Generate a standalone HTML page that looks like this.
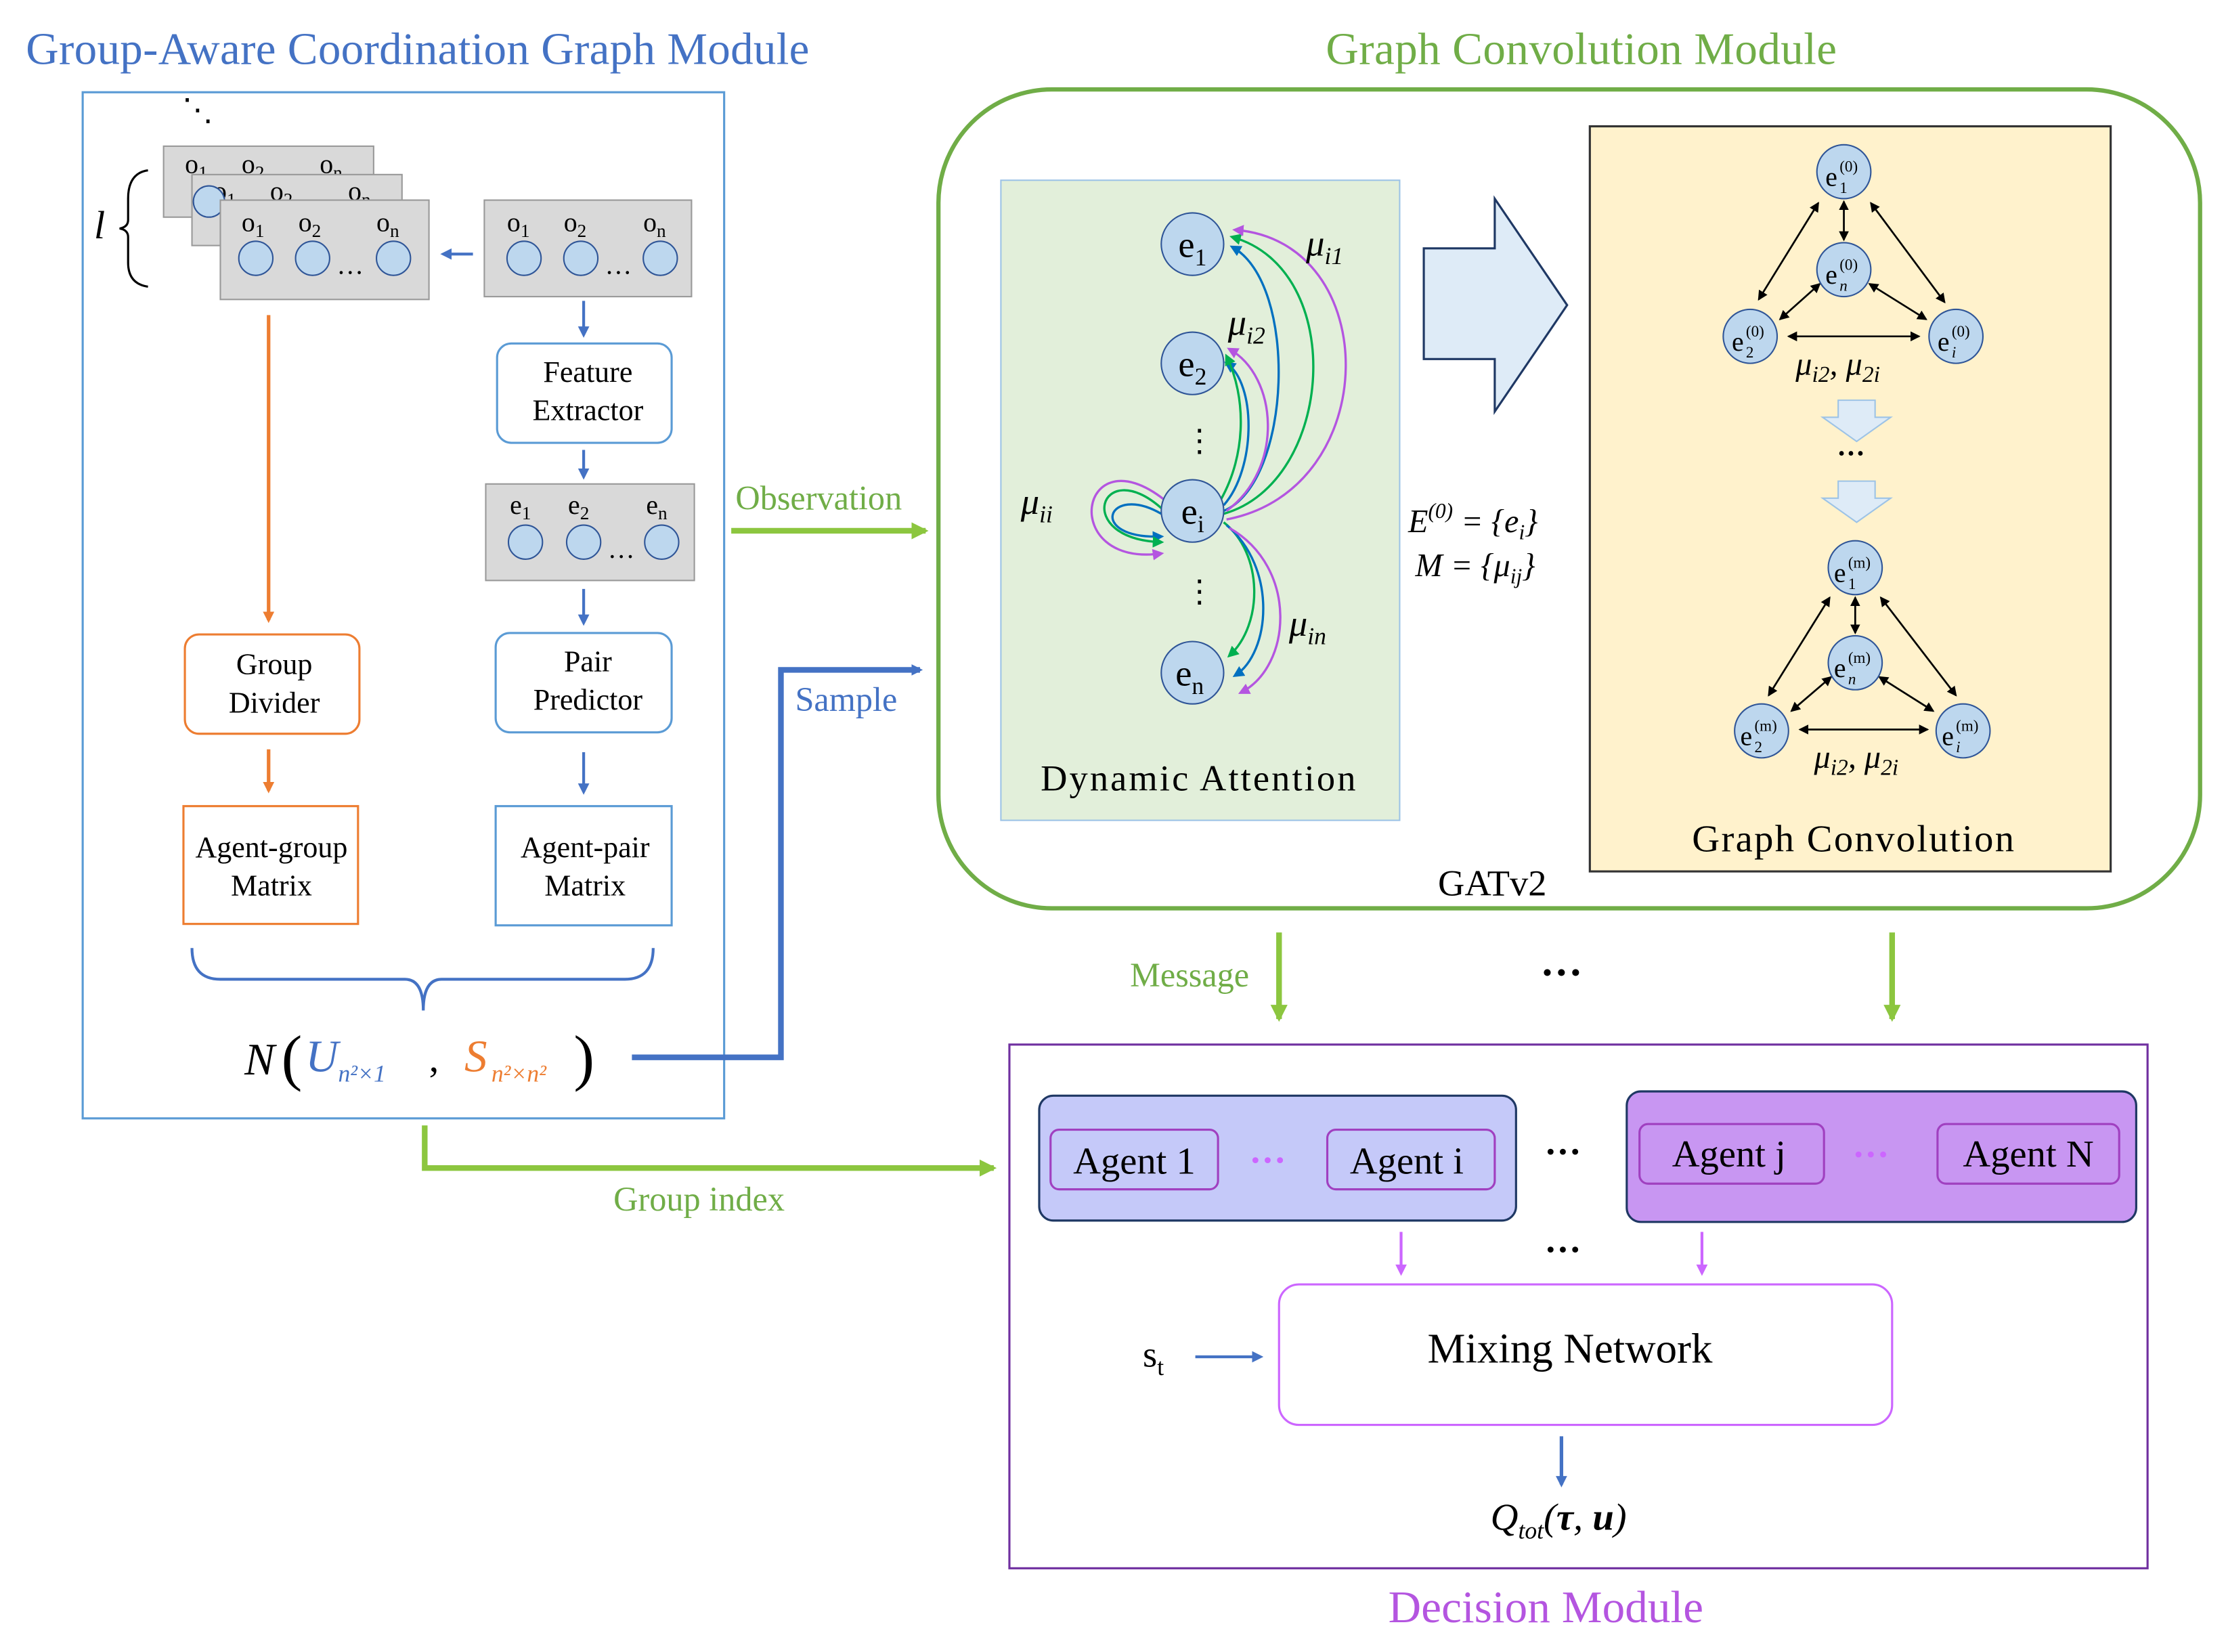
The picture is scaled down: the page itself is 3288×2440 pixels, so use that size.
<!DOCTYPE html>
<html><head><meta charset="utf-8"><style>html,body{margin:0;padding:0;background:#fff}svg{display:block}</style></head>
<body>
<svg width="3288" height="2440" viewBox="0 0 1568 1164" xmlns="http://www.w3.org/2000/svg" font-family="'Liberation Serif', serif">
<defs>
<marker id="ab" markerWidth="8" markerHeight="8" refX="6" refY="4" orient="auto" markerUnits="userSpaceOnUse"><path d="M0,0 L8,4 L0,8 z" fill="#4472C4"/></marker>
<marker id="ao" markerWidth="8" markerHeight="8" refX="6" refY="4" orient="auto" markerUnits="userSpaceOnUse"><path d="M0,0 L8,4 L0,8 z" fill="#ED7D31"/></marker>
<marker id="ag" markerWidth="12" markerHeight="12" refX="10" refY="6" orient="auto" markerUnits="userSpaceOnUse"><path d="M0,0 L12,6 L0,12 z" fill="#8CC63F"/></marker>
<marker id="ap" markerWidth="8" markerHeight="8" refX="6" refY="4" orient="auto" markerUnits="userSpaceOnUse"><path d="M0,0 L8,4 L0,8 z" fill="#CC66FF"/></marker>
<marker id="ak" markerWidth="7" markerHeight="7" refX="6" refY="3.5" orient="auto-start-reverse" markerUnits="userSpaceOnUse"><path d="M0,0 L7,3.5 L0,7 z" fill="#000"/></marker>
<marker id="ac1" markerWidth="8" markerHeight="8" refX="6" refY="4" orient="auto" markerUnits="userSpaceOnUse"><path d="M0,0 L8,4 L0,8 z" fill="#0070C0"/></marker>
<marker id="ac2" markerWidth="8" markerHeight="8" refX="6" refY="4" orient="auto" markerUnits="userSpaceOnUse"><path d="M0,0 L8,4 L0,8 z" fill="#00B050"/></marker>
<marker id="ac3" markerWidth="8" markerHeight="8" refX="6" refY="4" orient="auto" markerUnits="userSpaceOnUse"><path d="M0,0 L8,4 L0,8 z" fill="#B455E0"/></marker>
</defs>

<!-- Left module -->
<text x="18" y="45" font-size="32" fill="#4472C4" textLength="552">Group-Aware Coordination Graph Module</text>
<rect x="58" y="65" width="452" height="723" fill="none" stroke="#5B9BD5" stroke-width="1.5"/>
<text x="128" y="85" font-size="22">⋱</text>
<text x="66" y="168" font-size="28" font-style="italic">l</text>
<path d="M104,120 Q90,122 90,140 L90,155 Q90,160 84,161 Q90,162 90,167 L90,185 Q90,200 104,202" fill="none" stroke="#000" stroke-width="1.5"/>
<g font-size="19">
<rect x="115" y="103" width="148" height="50" fill="#D9D9D9" stroke="#999"/>
<text x="130" y="122">o<tspan font-size="13" dy="4">1</tspan></text><text x="170" y="122">o<tspan font-size="13" dy="4">2</tspan></text><text x="225" y="122">o<tspan font-size="13" dy="4">n</tspan></text>
<rect x="135" y="123" width="148" height="50" fill="#D9D9D9" stroke="#999"/>
<text x="150" y="141">o<tspan font-size="13" dy="4">1</tspan></text><text x="190" y="141">o<tspan font-size="13" dy="4">2</tspan></text><text x="245" y="141">o<tspan font-size="13" dy="4">n</tspan></text>
<circle cx="147" cy="142" r="11" fill="#BDD7EE" stroke="#2F5597"/>
<rect x="155" y="141" width="147" height="70" fill="#D9D9D9" stroke="#999"/>
<text x="170" y="163">o<tspan font-size="13" dy="4">1</tspan></text><text x="210" y="163">o<tspan font-size="13" dy="4">2</tspan></text><text x="265" y="163">o<tspan font-size="13" dy="4">n</tspan></text>
<circle cx="180" cy="182" r="12" fill="#BDD7EE" stroke="#2F5597"/><circle cx="220" cy="182" r="12" fill="#BDD7EE" stroke="#2F5597"/><circle cx="277" cy="182" r="12" fill="#BDD7EE" stroke="#2F5597"/>
<text x="237" y="193">…</text>
<rect x="341" y="141" width="146" height="68" fill="#D9D9D9" stroke="#999"/>
<text x="357" y="163">o<tspan font-size="13" dy="4">1</tspan></text><text x="397" y="163">o<tspan font-size="13" dy="4">2</tspan></text><text x="453" y="163">o<tspan font-size="13" dy="4">n</tspan></text>
<circle cx="369" cy="182" r="12" fill="#BDD7EE" stroke="#2F5597"/><circle cx="409" cy="182" r="12" fill="#BDD7EE" stroke="#2F5597"/><circle cx="465" cy="182" r="12" fill="#BDD7EE" stroke="#2F5597"/>
<text x="426" y="193">…</text>
<rect x="342" y="341" width="147" height="68" fill="#D9D9D9" stroke="#999"/>
<text x="359" y="362">e<tspan font-size="13" dy="4">1</tspan></text><text x="400" y="362">e<tspan font-size="13" dy="4">2</tspan></text><text x="455" y="362">e<tspan font-size="13" dy="4">n</tspan></text>
<circle cx="370" cy="382" r="12" fill="#BDD7EE" stroke="#2F5597"/><circle cx="411" cy="382" r="12" fill="#BDD7EE" stroke="#2F5597"/><circle cx="466" cy="382" r="12" fill="#BDD7EE" stroke="#2F5597"/>
<text x="428" y="393">…</text>
</g>
<line x1="333" y1="179" x2="312" y2="179" stroke="#4472C4" stroke-width="2" marker-end="url(#ab)"/>
<line x1="411" y1="212" x2="411" y2="236" stroke="#4472C4" stroke-width="2" marker-end="url(#ab)"/>
<line x1="411" y1="317" x2="411" y2="336" stroke="#4472C4" stroke-width="2" marker-end="url(#ab)"/>
<line x1="411" y1="415" x2="411" y2="439" stroke="#4472C4" stroke-width="2" marker-end="url(#ab)"/>
<line x1="411" y1="530" x2="411" y2="558" stroke="#4472C4" stroke-width="2" marker-end="url(#ab)"/>
<g font-size="21" text-anchor="middle">
<rect x="350" y="242" width="123" height="70" rx="10" fill="#fff" stroke="#5B9BD5" stroke-width="1.5"/>
<text x="414" y="269">Feature</text><text x="414" y="296">Extractor</text>
<rect x="349" y="446" width="124" height="70" rx="10" fill="#fff" stroke="#5B9BD5" stroke-width="1.5"/>
<text x="414" y="473">Pair</text><text x="414" y="500">Predictor</text>
<rect x="349" y="568" width="124" height="84" fill="#fff" stroke="#5B9BD5" stroke-width="1.5"/>
<text x="412" y="604">Agent-pair</text><text x="412" y="631">Matrix</text>
<rect x="130" y="447" width="123" height="70" rx="10" fill="#fff" stroke="#ED7D31" stroke-width="1.5"/>
<text x="193" y="475">Group</text><text x="193" y="502">Divider</text>
<rect x="129" y="568" width="123" height="83" fill="#fff" stroke="#ED7D31" stroke-width="1.5"/>
<text x="191" y="604">Agent-group</text><text x="191" y="631">Matrix</text>
</g>
<line x1="189" y1="222" x2="189" y2="437" stroke="#ED7D31" stroke-width="2.5" marker-end="url(#ao)"/>
<line x1="189" y1="528" x2="189" y2="557" stroke="#ED7D31" stroke-width="2.5" marker-end="url(#ao)"/>
<path d="M135,668 Q135,690 155,690 L285,690 Q298,690 298,712 Q298,690 311,690 L440,690 Q460,690 460,668" fill="none" stroke="#4472C4" stroke-width="2"/>
<text x="172" y="757" font-size="32" font-style="italic">N</text>
<text x="198" y="760" font-size="44">(</text>
<text x="215" y="755" font-size="32" font-style="italic" fill="#4472C4">U</text>
<text x="238" y="762" font-size="17" font-style="italic" fill="#4472C4">n²×1</text>
<text x="302" y="755" font-size="28">,</text>
<text x="327" y="755" font-size="32" font-style="italic" fill="#ED7D31">S</text>
<text x="346" y="762" font-size="17" font-style="italic" fill="#ED7D31">n²×n²</text>
<text x="404" y="760" font-size="44">)</text>
<polyline points="445,745 550,745 550,472 648,472" fill="none" stroke="#4472C4" stroke-width="4" marker-end="url(#ab)"/>
<text x="560" y="501" font-size="24" fill="#4472C4">Sample</text>
<line x1="515" y1="374" x2="652" y2="374" stroke="#8CC63F" stroke-width="4" marker-end="url(#ag)"/>
<text x="518" y="359" font-size="24" fill="#70AD47">Observation</text>
<polyline points="299,793 299,823 700,823" fill="none" stroke="#8CC63F" stroke-width="4" marker-end="url(#ag)"/>
<text x="432" y="853" font-size="24" fill="#70AD47">Group index</text>

<!-- Graph Convolution Module -->
<text x="934" y="45" font-size="32" fill="#70AD47" textLength="360">Graph Convolution Module</text>
<rect x="661" y="63" width="889" height="577" rx="80" fill="none" stroke="#70AD47" stroke-width="3"/>
<rect x="705" y="127" width="281" height="451" fill="#E2EFDA" stroke="#9DC3E6"/>
<g fill="none" stroke-width="1.6">
<path d="M862,360 C910,340 915,200 868,174" stroke="#0070C0" marker-end="url(#ac1)"/>
<path d="M862,362 C940,340 950,190 868,167" stroke="#00B050" marker-end="url(#ac2)"/>
<path d="M864,366 C975,345 975,170 870,162" stroke="#B455E0" marker-end="url(#ac3)"/>
<path d="M862,356 C885,330 885,270 864,256" stroke="#0070C0" marker-end="url(#ac1)"/>
<path d="M860,352 C878,320 878,280 864,251" stroke="#00B050" marker-end="url(#ac2)"/>
<path d="M864,360 C905,330 900,265 866,246" stroke="#B455E0" marker-end="url(#ac3)"/>
<path d="M862,368 C890,390 890,440 866,462" stroke="#00B050" marker-end="url(#ac2)"/>
<path d="M864,370 C900,400 895,460 870,476" stroke="#0070C0" marker-end="url(#ac1)"/>
<path d="M866,372 C915,400 910,470 874,488" stroke="#B455E0" marker-end="url(#ac3)"/>
<path d="M818,362 C780,340 765,380 818,378" stroke="#0070C0" marker-end="url(#ac1)"/>
<path d="M818,358 C775,320 755,380 818,382" stroke="#00B050" marker-end="url(#ac2)"/>
<path d="M820,352 C760,305 745,400 818,390" stroke="#B455E0" marker-end="url(#ac3)"/>
</g>
<g font-size="26">
<circle cx="840" cy="172" r="22" fill="#BDD7EE" stroke="#2F5597"/><text x="830" y="181">e<tspan font-size="17" dy="6">1</tspan></text>
<circle cx="840" cy="256" r="22" fill="#BDD7EE" stroke="#2F5597"/><text x="830" y="265">e<tspan font-size="17" dy="6">2</tspan></text>
<circle cx="840" cy="360" r="22" fill="#BDD7EE" stroke="#2F5597"/><text x="832" y="369">e<tspan font-size="17" dy="6">i</tspan></text>
<circle cx="840" cy="474" r="22" fill="#BDD7EE" stroke="#2F5597"/><text x="828" y="483">e<tspan font-size="17" dy="6">n</tspan></text>
<text x="834" y="318" font-size="22">⋮</text><text x="834" y="424" font-size="22">⋮</text>
<text x="920" y="180" font-style="italic">μ<tspan font-size="17" dy="6">i1</tspan></text>
<text x="865" y="236" font-style="italic">μ<tspan font-size="17" dy="6">i2</tspan></text>
<text x="719" y="362" font-style="italic">μ<tspan font-size="17" dy="6">ii</tspan></text>
<text x="908" y="448" font-style="italic">μ<tspan font-size="17" dy="6">in</tspan></text>
<text x="733" y="557" textLength="222">Dynamic Attention</text>
</g>
<polygon points="1003,175 1053,175 1053,140 1104,215 1053,290 1053,253 1003,253" fill="#DEEBF7" stroke="#1F3864" stroke-width="1.5"/>
<text x="992" y="375" font-size="23" font-style="italic">E<tspan font-size="15" dy="-10">(0)</tspan><tspan dy="10"> = {e</tspan><tspan font-size="15" dy="5">i</tspan><tspan dy="-5">}</tspan></text>
<text x="997" y="406" font-size="23" font-style="italic">M = {μ<tspan font-size="15" dy="5">ij</tspan><tspan dy="-5">}</tspan></text>
<text x="1013" y="631" font-size="26">GATv2</text>
<rect x="1120" y="89" width="367" height="525" fill="#FFF2CC" stroke="#333" stroke-width="1.5"/>
<g stroke="#000" stroke-width="1.3" marker-start="url(#ak)" marker-end="url(#ak)">
<line x1="1299" y1="142" x2="1299" y2="169"/>
<line x1="1281" y1="143" x2="1239" y2="211"/>
<line x1="1318" y1="143" x2="1370" y2="213"/>
<line x1="1282" y1="200" x2="1254" y2="225"/>
<line x1="1317" y1="200" x2="1357" y2="225"/>
<line x1="1260" y1="237" x2="1352" y2="237"/>
<line x1="1307" y1="421" x2="1307" y2="446"/>
<line x1="1289" y1="421" x2="1246" y2="490"/>
<line x1="1325" y1="421" x2="1378" y2="490"/>
<line x1="1290" y1="477" x2="1262" y2="501"/>
<line x1="1324" y1="477" x2="1362" y2="501"/>
<line x1="1268" y1="514" x2="1358" y2="514"/>
</g>
<g font-size="19">
<circle cx="1299" cy="121" r="19" fill="#BDD7EE" stroke="#2F5597"/><text x="1286" y="131">e</text><text x="1296" y="121" font-size="11">(0)</text><text x="1296" y="136" font-size="11">1</text>
<circle cx="1299" cy="190" r="19" fill="#BDD7EE" stroke="#2F5597"/><text x="1286" y="200">e</text><text x="1296" y="190" font-size="11">(0)</text><text x="1296" y="205" font-size="11" font-style="italic">n</text>
<circle cx="1233" cy="237" r="19" fill="#BDD7EE" stroke="#2F5597"/><text x="1220" y="247">e</text><text x="1230" y="237" font-size="11">(0)</text><text x="1230" y="252" font-size="11">2</text>
<circle cx="1378" cy="237" r="19" fill="#BDD7EE" stroke="#2F5597"/><text x="1365" y="247">e</text><text x="1375" y="237" font-size="11">(0)</text><text x="1375" y="252" font-size="11" font-style="italic">i</text>
<circle cx="1307" cy="400" r="19" fill="#BDD7EE" stroke="#2F5597"/><text x="1292" y="410">e</text><text x="1302" y="400" font-size="11">(m)</text><text x="1302" y="415" font-size="11">1</text>
<circle cx="1307" cy="467" r="19" fill="#BDD7EE" stroke="#2F5597"/><text x="1292" y="477">e</text><text x="1302" y="467" font-size="11">(m)</text><text x="1302" y="482" font-size="11" font-style="italic">n</text>
<circle cx="1241" cy="515" r="19" fill="#BDD7EE" stroke="#2F5597"/><text x="1226" y="525">e</text><text x="1236" y="515" font-size="11">(m)</text><text x="1236" y="530" font-size="11">2</text>
<circle cx="1383" cy="515" r="19" fill="#BDD7EE" stroke="#2F5597"/><text x="1368" y="525">e</text><text x="1378" y="515" font-size="11">(m)</text><text x="1378" y="530" font-size="11" font-style="italic">i</text>
</g>
<text x="1265" y="264" font-size="23" font-style="italic">μ<tspan font-size="16" dy="5">i2</tspan><tspan dy="-5">, μ</tspan><tspan font-size="16" dy="5">2i</tspan></text>
<text x="1278" y="541" font-size="23" font-style="italic">μ<tspan font-size="16" dy="5">i2</tspan><tspan dy="-5">, μ</tspan><tspan font-size="16" dy="5">2i</tspan></text>
<polygon points="1295,282 1321,282 1321,294 1332,294 1308,311 1284,294 1295,294" fill="#DEEBF7" stroke="#9DC3E6"/>
<polygon points="1295,339 1321,339 1321,351 1332,351 1308,368 1284,351 1295,351" fill="#DEEBF7" stroke="#9DC3E6"/>
<text x="1294" y="326" font-size="20" font-weight="bold">···</text>
<text x="1192" y="600" font-size="27" textLength="227">Graph Convolution</text>

<!-- Message -->
<line x1="901" y1="657" x2="901" y2="718" stroke="#8CC63F" stroke-width="4" marker-end="url(#ag)"/>
<line x1="1333" y1="657" x2="1333" y2="718" stroke="#8CC63F" stroke-width="4" marker-end="url(#ag)"/>
<text x="796" y="695" font-size="24" fill="#70AD47">Message</text>
<text x="1085" y="695" font-size="30" font-weight="bold">···</text>

<!-- Decision Module -->
<rect x="711" y="736" width="802" height="369" fill="none" stroke="#7030A0" stroke-width="1.5"/>
<text x="978" y="1143" font-size="32" fill="#B455E0" textLength="222">Decision Module</text>
<rect x="732" y="772" width="336" height="88" rx="10" fill="#C5C9F9" stroke="#1F3864" stroke-width="1.5"/>
<rect x="740" y="796" width="118" height="42" rx="6" fill="#C5C9F9" stroke="#A040C0" stroke-width="1.5"/>
<rect x="935" y="796" width="118" height="42" rx="6" fill="#C5C9F9" stroke="#A040C0" stroke-width="1.5"/>
<text x="799" y="827" font-size="27" text-anchor="middle">Agent 1</text>
<text x="991" y="827" font-size="27" text-anchor="middle">Agent i</text>
<text x="880" y="826" font-size="26" fill="#CC66FF" font-weight="bold">···</text>
<rect x="1146" y="769" width="359" height="92" rx="10" fill="#C896F2" stroke="#1F3864" stroke-width="1.5"/>
<rect x="1155" y="792" width="130" height="42" rx="6" fill="#C896F2" stroke="#A040C0" stroke-width="1.5"/>
<rect x="1365" y="792" width="128" height="42" rx="6" fill="#C896F2" stroke="#A040C0" stroke-width="1.5"/>
<text x="1218" y="822" font-size="27" text-anchor="middle">Agent j</text>
<text x="1429" y="822" font-size="27" text-anchor="middle">Agent N</text>
<text x="1305" y="822" font-size="26" fill="#CC66FF" font-weight="bold">···</text>
<text x="1088" y="820" font-size="26" font-weight="bold">···</text>
<text x="1088" y="889" font-size="26" font-weight="bold">···</text>
<line x1="987" y1="868" x2="987" y2="897" stroke="#CC66FF" stroke-width="2" marker-end="url(#ap)"/>
<line x1="1199" y1="868" x2="1199" y2="897" stroke="#CC66FF" stroke-width="2" marker-end="url(#ap)"/>
<rect x="901" y="905" width="432" height="99" rx="14" fill="#fff" stroke="#CC66FF" stroke-width="1.5"/>
<text x="1106" y="960" font-size="30" text-anchor="middle">Mixing Network</text>
<text x="805" y="963" font-size="26">s<tspan font-size="17" dy="6">t</tspan></text>
<line x1="842" y1="956" x2="888" y2="956" stroke="#4472C4" stroke-width="2" marker-end="url(#ab)"/>
<line x1="1100" y1="1012" x2="1100" y2="1046" stroke="#4472C4" stroke-width="2.5" marker-end="url(#ab)"/>
<text x="1050" y="1078" font-size="27" font-style="italic">Q<tspan font-size="17" dy="6">tot</tspan><tspan dy="-6">(</tspan><tspan font-weight="bold">τ</tspan><tspan>, </tspan><tspan font-weight="bold">u</tspan><tspan>)</tspan></text>
</svg>
</body></html>
